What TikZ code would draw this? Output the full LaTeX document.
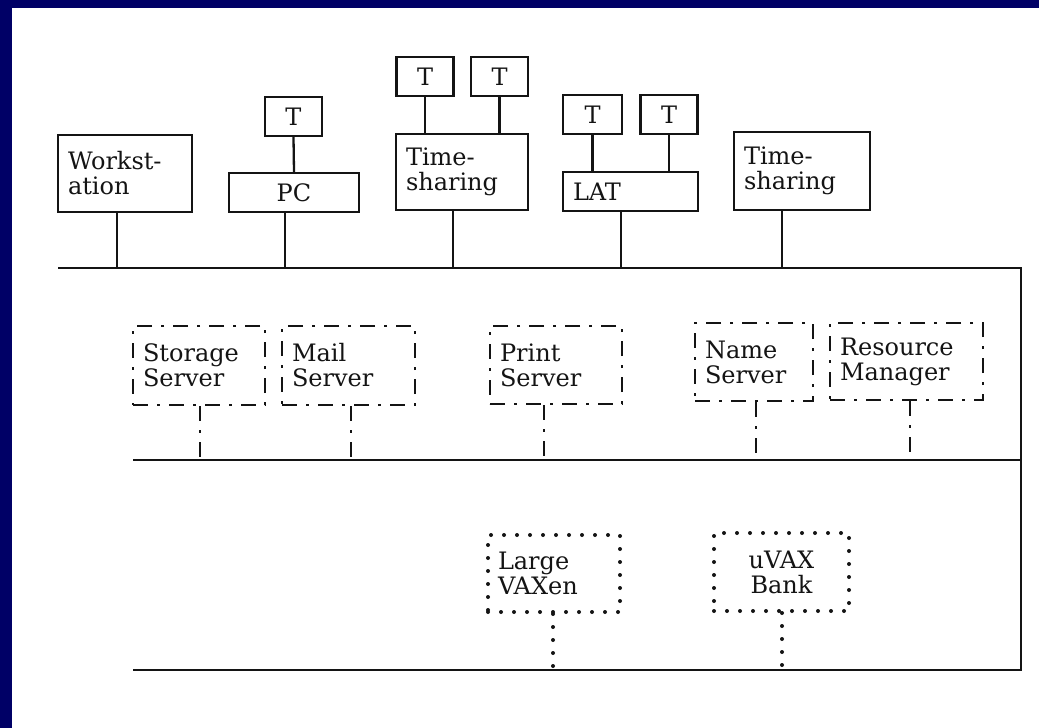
\documentclass[tikz,border=0pt]{standalone}
\usepackage{fontspec}
\setmainfont{DejaVu Serif}
\definecolor{color_frame}{HTML}{000066}
\definecolor{color_ink}{HTML}{141414}
\tikzset{
  host_box/.style={draw=color_ink, line width=2.3pt, fill=white, inner xsep=10pt, inner ysep=0pt,
    font=\fontsize{24}{25}\selectfont, text=color_ink, align=left},
  term_box/.style={host_box, align=center, minimum width=57pt, minimum height=39pt},
  server_box/.style={host_box, dash pattern=on 15pt off 9pt on 3pt off 9pt},
  vax_box/.style={host_box, line width=4pt, line cap=round, dash pattern=on 0pt off 13pt},
  bus_line/.style={draw=color_ink, line width=2.6pt},
  tap_solid/.style={draw=color_ink, line width=2.3pt},
  tap_server/.style={tap_solid, dash pattern=on 15pt off 9pt on 3pt off 9pt},
  tap_vax/.style={tap_solid, line width=4pt, line cap=round, dash pattern=on 0pt off 13pt},
}

\begin{document}
\begin{tikzpicture}[x=1pt, y=-1pt]
    \useasboundingbox (0,0) rectangle (1039,728);
    \fill[white] (0,0) rectangle (1039,728);
    \fill[color_frame] (0,0) rectangle (1039,8);
    \fill[color_frame] (0,0) rectangle (12,728);
    % the three LANs
    \coordinate (bus1_w) at (58,268);
    \coordinate (bus1_e) at (1021,268);
    \coordinate (bus2_w) at (133,460);
    \coordinate (bus2_e) at (1021,460);
    \coordinate (bus3_w) at (133,670);
    \coordinate (bus3_e) at (1021,670);
    \draw[bus_line] (bus1_w) -- (bus1_e) -- (bus3_e) -- (bus3_w);
    \draw[bus_line] (bus2_w) -- (bus2_e);
    % hosts on the upper LAN
    \node[host_box, minimum width=134pt, minimum height=77pt, text width=114pt] (work) at (125,173.5) {Workst-\\ation};
    \node[host_box, align=center, minimum width=130pt, minimum height=39pt] (pc) at (294,192.5) {PC};
    \node[term_box] (pc_t) at (293.5,116.5) {T};
    \node[host_box, minimum width=132pt, minimum height=76pt, text width=112pt] (ts1) at (462,172) {Time-\\sharing};
    \node[term_box] (ts1_ta) at (425,76.5) {T};
    \node[term_box] (ts1_tb) at (499.5,76.5) {T};
    \node[host_box, minimum width=135pt, minimum height=39pt, text width=115pt] (lat) at (630.5,191.5) {LAT};
    \node[term_box, minimum width=59pt] (lat_ta) at (592.5,114.5) {T};
    \node[term_box] (lat_tb) at (669,114.5) {T};
    \node[host_box, minimum width=136pt, minimum height=78pt, text width=116pt] (ts2) at (802,171) {Time-\\sharing};
    \draw[tap_solid] (pc_t.south) -- (pc.north);
    \draw[tap_solid] (ts1_ta.south) -- (ts1_ta.south |- ts1.north);
    \draw[tap_solid] (ts1_tb.south) -- (ts1_tb.south |- ts1.north);
    \draw[tap_solid] (lat_ta.south) -- (lat_ta.south |- lat.north);
    \draw[tap_solid] (lat_tb.south) -- (lat_tb.south |- lat.north);
    \coordinate (tap_work) at (117,268);
    \coordinate (tap_pc) at (285,268);
    \coordinate (tap_ts1) at (453,268);
    \coordinate (tap_lat) at (621,268);
    \coordinate (tap_ts2) at (782,268);
    \draw[tap_solid] (work.south -| tap_work) -- (tap_work);
    \draw[tap_solid] (pc.south -| tap_pc) -- (tap_pc);
    \draw[tap_solid] (ts1.south -| tap_ts1) -- (tap_ts1);
    \draw[tap_solid] (lat.south -| tap_lat) -- (tap_lat);
    \draw[tap_solid] (ts2.south -| tap_ts2) -- (tap_ts2);
    % servers on the middle LAN
    \node[server_box, minimum width=132pt, minimum height=79pt, text width=112pt] (storage) at (199,365.5) {Storage\\Server};
    \node[server_box, minimum width=133pt, minimum height=79pt, text width=113pt] (mail) at (348.5,365.5) {Mail\\Server};
    \node[server_box, minimum width=132pt, minimum height=78pt, text width=112pt] (print) at (556,365) {Print\\Server};
    \node[server_box, minimum width=118pt, minimum height=78pt, text width=98pt] (name) at (754,362) {Name\\Server};
    \node[server_box, minimum width=153pt, minimum height=77pt, text width=133pt] (resource) at (906.5,361.5) {Resource\\Manager};
    \coordinate (tap_storage) at (200,460);
    \coordinate (tap_mail) at (351,460);
    \coordinate (tap_print) at (544,460);
    \coordinate (tap_name) at (756,460);
    \coordinate (tap_resource) at (910,460);
    \draw[tap_server] (storage.south -| tap_storage) -- (tap_storage);
    \draw[tap_server] (mail.south -| tap_mail) -- (tap_mail);
    \draw[tap_server] (print.south -| tap_print) -- (tap_print);
    \draw[tap_server] (name.south -| tap_name) -- (tap_name);
    \draw[tap_server] (resource.south -| tap_resource) -- (tap_resource);
    % VAX machines on the lower LAN
    \node[vax_box, minimum width=132pt, minimum height=77pt, text width=112pt] (large) at (554,573.5) {Large\\VAXen};
    \node[vax_box, align=center, minimum width=135pt, minimum height=78pt] (uvax) at (781.5,572) {uVAX\\Bank};
    \coordinate (tap_large) at (553,670);
    \coordinate (tap_uvax) at (782,670);
    \draw[tap_vax] (large.south -| tap_large) -- (tap_large);
    \draw[tap_vax] (uvax.south -| tap_uvax) -- (tap_uvax);
  \end{tikzpicture}
\end{document}
